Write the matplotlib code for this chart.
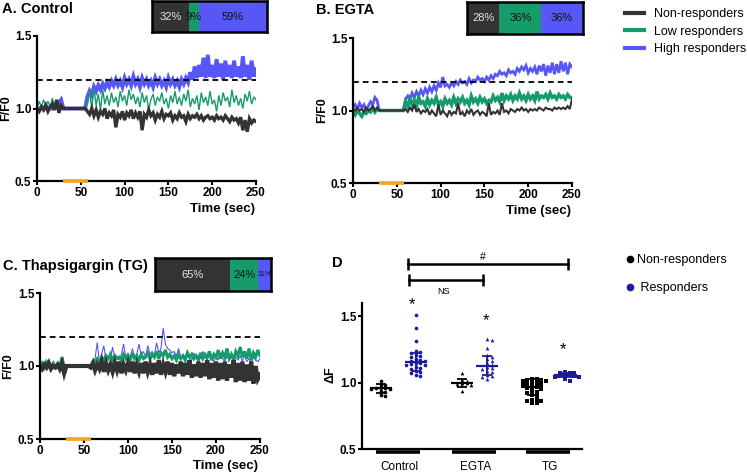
import numpy as np
import matplotlib
matplotlib.use("Agg")
import matplotlib.pyplot as plt
from matplotlib.lines import Line2D

plt.rcParams['font.family'] = ['Liberation Sans', 'DejaVu Sans']

W, H = 747, 474

# ---------------- data ----------------
SAMPLE_STEP = 2.5      # seconds between samples
BASELINE = 1.0         # F/F0 during stimulation window (flat)
N_FLAT = 10            # samples in the flat window between pre and post
STIM_START, STIM_END = 30, 58
THRESHOLD = 1.2

# Panel A (Control)
a_high_pre = [1.00, 0.99, 1.01, 1.00, 1.02, 0.99, 1.01, 1.00, 1.02, 1.01, 1.04, 1.06, 1.00]
a_high_post = [1.08, 1.12, 1.09, 1.15, 1.12, 1.16, 1.13, 1.17, 1.14, 1.18,
               1.15, 1.19, 1.16, 1.20, 1.16, 1.19, 1.15, 1.21, 1.17, 1.20,
               1.16, 1.22, 1.17, 1.20, 1.15, 1.21, 1.17, 1.20, 1.16, 1.19,
               1.15, 1.21, 1.17, 1.20, 1.16, 1.19, 1.15, 1.21, 1.17, 1.20,
               1.16, 1.19, 1.15, 1.20, 1.17, 1.21, 1.18, 1.25, 1.20, 1.29,
               1.21, 1.30, 1.22, 1.35, 1.21, 1.37, 1.22, 1.30, 1.21, 1.34,
               1.22, 1.31, 1.20, 1.33, 1.22, 1.30, 1.21, 1.33, 1.22, 1.29,
               1.21, 1.36, 1.22, 1.30, 1.20, 1.33, 1.22, 1.27]
a_low_pre = [1.00, 1.05, 1.01, 1.06, 1.02, 1.05, 1.01, 1.07, 1.02, 1.04, 1.00, 1.03, 1.00]
a_low_post = [1.03, 1.12, 1.00, 1.14, 1.02, 1.10, 0.99, 1.13, 1.03, 1.09,
              1.02, 1.11, 1.04, 1.08, 1.01, 1.12, 1.05, 1.09, 1.02, 1.13,
              1.06, 1.10, 1.03, 1.08, 1.01, 1.11, 1.04, 1.09, 0.99, 1.06,
              1.10, 1.02, 1.08, 1.05, 1.11, 1.03, 1.07, 1.00, 1.09, 1.04,
              1.12, 1.03, 1.08, 1.02, 1.10, 1.05, 1.13, 1.01, 1.07, 1.03,
              1.09, 0.99, 1.11, 1.04, 1.08, 1.02, 1.12, 1.03, 1.06, 0.98,
              1.09, 1.02, 1.11, 1.05, 1.08, 1.01, 1.13, 1.04, 1.09, 1.02,
              1.07, 1.00, 1.10, 1.05, 1.12, 1.03, 1.08, 1.06]
a_non_pre = [1.00, 0.98, 1.01, 0.99, 1.02, 0.98, 1.01, 1.03, 0.99, 1.06, 0.97, 1.02, 1.00]
a_non_post = [0.98, 0.96, 1.00, 0.95, 0.99, 0.94, 0.98, 0.96, 1.00, 0.93,
              0.97, 0.95, 0.99, 0.87, 0.96, 0.94, 0.98, 0.92, 0.97, 0.95,
              0.99, 0.93, 0.97, 0.94, 0.98, 0.85, 0.96, 0.94, 0.99, 0.95,
              0.97, 0.92, 0.96, 0.94, 0.98, 0.93, 0.96, 0.95, 0.97, 0.92,
              0.95, 0.93, 0.97, 0.94, 0.95, 0.91, 0.96, 0.93, 0.95, 0.94,
              0.96, 0.93, 0.95, 0.92, 0.94, 0.95, 0.93, 0.94, 0.92, 0.95,
              0.93, 0.94, 0.92, 0.95, 0.93, 0.91, 0.94, 0.92, 0.93, 0.90,
              0.94, 0.85, 0.92, 0.84, 0.93, 0.90, 0.92, 0.91]

# Panel B (EGTA)
b_high_pre = [1.02, 1.04, 1.01, 1.05, 1.02, 1.04, 1.00, 1.03, 1.06, 1.04, 1.09, 1.07, 1.00]
b_high_post = [1.00, 1.08, 1.10, 1.07, 1.12, 1.09, 1.13, 1.10, 1.14, 1.11,
               1.15, 1.12, 1.16, 1.13, 1.17, 1.14, 1.19, 1.16, 1.23, 1.17,
               1.18, 1.16, 1.19, 1.17, 1.20, 1.18, 1.21, 1.19, 1.20, 1.18,
               1.22, 1.19, 1.21, 1.20, 1.23, 1.21, 1.22, 1.20, 1.23, 1.21,
               1.24, 1.22, 1.25, 1.24, 1.27, 1.25, 1.26, 1.24, 1.28, 1.26,
               1.27, 1.25, 1.29, 1.27, 1.30, 1.28, 1.31, 1.26, 1.29, 1.27,
               1.30, 1.25, 1.31, 1.27, 1.32, 1.24, 1.31, 1.26, 1.33, 1.25,
               1.32, 1.26, 1.34, 1.27, 1.33, 1.25, 1.32, 1.30]
b_low_pre = [0.99, 0.97, 1.00, 0.98, 0.96, 0.99, 0.98, 1.00, 0.99, 1.02, 0.99, 1.01, 1.00]
b_low_post = [1.00, 1.06, 1.03, 1.08, 1.04, 1.07, 1.03, 1.09, 1.05, 1.06,
              1.03, 1.08, 1.04, 1.07, 1.05, 1.09, 1.04, 1.06, 1.03, 1.08,
              1.05, 1.07, 1.04, 1.09, 1.05, 1.08, 1.06, 1.09, 1.05, 1.07,
              1.04, 1.10, 1.06, 1.08, 1.05, 1.09, 1.06, 1.08, 1.05, 1.07,
              1.06, 1.10, 1.07, 1.09, 1.06, 1.12, 1.07, 1.10, 1.08, 1.11,
              1.07, 1.10, 1.08, 1.12, 1.08, 1.10, 1.07, 1.11, 1.08, 1.10,
              1.07, 1.13, 1.08, 1.10, 1.09, 1.11, 1.08, 1.12, 1.09, 1.10,
              1.08, 1.11, 1.09, 1.10, 1.08, 1.11, 1.09, 1.09]
b_non_pre = [1.01, 1.00, 1.02, 1.00, 1.01, 0.99, 1.02, 1.00, 1.01, 1.03, 1.00, 1.02, 1.00]
b_non_post = [1.00, 1.01, 0.99, 1.02, 1.00, 1.04, 0.99, 1.01, 0.98, 1.00,
              0.99, 1.01, 0.97, 1.00, 0.98, 0.96, 1.04, 0.97, 1.00, 0.98,
              0.96, 1.00, 0.97, 0.99, 0.98, 1.05, 0.97, 0.99, 0.96, 1.00,
              0.98, 1.01, 0.97, 0.99, 1.00, 0.97, 0.99, 0.98, 0.96, 1.05,
              0.97, 0.99, 0.98, 1.00, 0.97, 1.05, 0.99, 1.00, 0.98, 1.01,
              1.00, 0.99, 1.01, 1.00, 1.02, 1.00, 1.01, 0.99, 1.01, 1.00,
              1.01, 1.00, 1.02, 1.01, 1.00, 1.02, 1.01, 1.01, 1.00, 1.02,
              1.01, 1.02, 1.01, 1.02, 1.01, 1.03, 1.01, 1.08]

# Panel C (Thapsigargin)
c_high_pre = [1.00, 0.99, 1.02, 0.98, 1.04, 1.00, 1.02, 0.99, 1.01, 1.00, 1.03, 1.00, 1.00]
c_high_post = [1.00, 1.02, 1.05, 1.16, 1.03, 1.08, 1.14, 1.04, 1.06, 1.05,
               1.13, 1.05, 1.07, 1.04, 1.08, 1.15, 1.06, 1.09, 1.05, 1.12,
               1.06, 1.08, 1.15, 1.07, 1.10, 1.06, 1.14, 1.08, 1.10, 1.07,
               1.16, 1.09, 1.12, 1.26, 1.15, 1.12, 1.11, 1.09, 1.10, 1.07,
               1.12, 1.06, 1.08, 1.05, 1.10, 1.06, 1.04, 1.09, 1.05, 1.07,
               1.05, 1.10, 1.06, 1.04, 1.08, 1.05, 1.03, 1.07, 1.04, 1.09,
               1.05, 1.03, 1.07, 1.04, 1.08, 1.02, 1.06, 1.04, 1.07, 1.03,
               1.08, 1.03, 1.05, 1.02, 1.06, 1.04, 1.03, 1.05]
c_low_pre = [1.00, 1.02, 0.99, 1.03, 1.01, 1.00, 1.02, 0.99, 1.01, 1.00, 1.06, 0.99, 1.00]
c_low_post = [1.00, 1.01, 1.03, 1.05, 1.02, 1.06, 1.04, 1.07, 1.05, 1.08,
              1.04, 1.07, 1.05, 1.06, 1.04, 1.08, 1.05, 1.07, 1.04, 1.09,
              1.05, 1.07, 1.04, 1.08, 1.05, 1.06, 1.09, 1.05, 1.08, 1.06,
              1.10, 1.05, 1.09, 1.07, 1.11, 1.06, 1.08, 1.05, 1.07, 1.04,
              1.08, 1.05, 1.07, 1.04, 1.09, 1.06, 1.08, 1.05, 1.07, 1.04,
              1.09, 1.05, 1.08, 1.06, 1.10, 1.04, 1.08, 1.06, 1.11, 1.05,
              1.09, 1.06, 1.12, 1.05, 1.08, 1.04, 1.10, 1.07, 1.13, 1.06,
              1.10, 1.05, 1.12, 1.04, 1.09, 1.06, 1.11, 1.07]
c_non_pre = [1.00, 0.98, 1.01, 0.99, 1.02, 0.98, 1.00, 0.99, 1.01, 0.98, 1.02, 0.95, 1.00]
c_non_post = [0.99, 1.02, 0.97, 1.01, 0.98, 1.03, 0.96, 1.02, 0.97, 1.01,
              0.96, 1.02, 0.97, 1.03, 0.95, 1.01, 0.97, 1.02, 0.96, 1.03,
              0.95, 1.01, 0.96, 1.02, 0.95, 1.03, 0.96, 1.01, 0.94, 1.02,
              0.95, 1.04, 0.94, 1.01, 0.96, 1.03, 0.94, 1.02, 0.93, 1.01,
              0.95, 1.03, 0.93, 1.02, 0.94, 1.04, 0.92, 1.01, 0.93, 1.03,
              0.92, 1.02, 0.93, 1.04, 0.91, 1.02, 0.92, 1.03, 0.90, 1.02,
              0.91, 1.03, 0.90, 1.01, 0.92, 1.04, 0.89, 1.02, 0.90, 1.03,
              0.89, 1.01, 0.90, 1.03, 0.88, 1.00, 0.91, 0.94]

# Proportions (%) non / low / high
a_pct = [32, 9, 59]
b_pct = [28, 36, 36]
c_pct = [65, 24, 11]

# Panel D: delta F per cell
groups = ["Control", "EGTA", "TG"]
d_non = [
    [1.01, 0.99, 0.98, 0.97, 0.96, 0.96, 0.95, 0.95, 0.94, 0.93, 0.91, 0.90],
    [1.07, 1.02, 1.01, 1.00, 1.00, 0.99, 0.98, 0.94],
    [1.03, 1.03, 1.02, 1.02, 1.01, 1.01, 1.00, 1.00, 0.99, 0.99, 0.98, 0.97, 0.97,
     0.96, 0.95, 0.94, 0.93, 0.92, 0.91, 0.90, 0.87, 0.87, 0.86, 0.86, 0.85, 0.85],
]
d_resp = [
    [1.51, 1.41, 1.31, 1.24, 1.23, 1.22, 1.21, 1.20, 1.19, 1.18, 1.17, 1.16, 1.16,
     1.15, 1.15, 1.14, 1.13, 1.13, 1.12, 1.11, 1.10, 1.09, 1.08, 1.07, 1.06, 1.05],
    [1.33, 1.32, 1.26, 1.21, 1.19, 1.18, 1.16, 1.15, 1.13, 1.12, 1.11, 1.10, 1.09,
     1.08, 1.06, 1.05, 1.04, 1.03],
    [1.08, 1.07, 1.07, 1.07, 1.06, 1.06, 1.06, 1.05, 1.05, 1.05, 1.04, 1.04, 1.03, 1.01],
]
d_non_mean = [0.956, 0.998, 0.968]
d_non_sd = [0.032, 0.030, 0.058]
d_resp_mean = [1.156, 1.129, 1.056]
d_resp_sd = [0.066, 0.070, 0.015]
markers = ['o', '^', 's']

# ---------------- style ----------------
C_NON = '#333333'
C_LOW = '#169b6b'
C_HIGH = '#5757f7'
C_STIM = '#f2a51f'
C_RESP = '#1c1c99'


def frac(x0, y0, x1, y1):
    """pixel box -> figure fraction rect"""
    return [x0 / W, 1 - y1 / H, (x1 - x0) / W, (y1 - y0) / H]


def fpt(x, y):
    return x / W, 1 - y / H


fig = plt.figure(figsize=(W / 100, H / 100), dpi=100)


def trace(pre, post):
    vals = list(pre) + [BASELINE] * N_FLAT + list(post)
    t = np.arange(len(vals)) * SAMPLE_STEP
    return t, np.array(vals)


def style_axes(ax):
    for s in ['top', 'right']:
        ax.spines[s].set_visible(False)
    for s in ['left', 'bottom']:
        ax.spines[s].set_linewidth(1.6)
    ax.tick_params(direction='out', length=3, width=1.5, labelsize=8.5, pad=1)
    for lbl in ax.get_xticklabels() + ax.get_yticklabels():
        lbl.set_fontweight('bold')


def trace_panel(rect, series):
    ax = fig.add_axes(rect)
    for pre, post, color, lw in series:
        t, v = trace(pre, post)
        ax.plot(t, v, color=color, lw=lw, solid_joinstyle='miter')
    ax.hlines(THRESHOLD, 0, 250, colors='black', linestyles=(0, (3.2, 2.2)), lw=1.3, zorder=4)
    ax.plot([STIM_START, STIM_END], [0.5, 0.5], color=C_STIM, lw=2.6, clip_on=False,
            zorder=6, solid_capstyle='butt')
    ax.set_xlim(0, 250)
    ax.set_ylim(0.5, 1.5)
    ax.set_xticks([0, 50, 100, 150, 200, 250])
    ax.set_yticks([0.5, 1.0, 1.5])
    style_axes(ax)
    return ax


def pct_bar(rect, pcts, textcolors, sizes):
    ax = fig.add_axes(rect)
    left = 0
    for p, c, tc, fs in zip(pcts, [C_NON, C_LOW, C_HIGH], textcolors, sizes):
        ax.barh(0, p, left=left, height=1, color=c, edgecolor='none')
        ax.text(left + p / 2, 0, f'{p}%', ha='center', va='center', color=tc, fontsize=fs)
        left += p
    ax.set_xlim(0, 100)
    ax.set_ylim(-0.5, 0.5)
    ax.set_xticks([])
    ax.set_yticks([])
    for s in ax.spines.values():
        s.set_linewidth(1.8)
        s.set_color('black')


# Panel A
axA = trace_panel(frac(37, 36, 256, 181), [
    (a_high_pre, a_high_post, C_HIGH, 2.8),
    (a_low_pre, a_low_post, C_LOW, 1.0),
    (a_non_pre, a_non_post, C_NON, 2.4),
])
# Panel B
axB = trace_panel(frac(353, 38, 572, 183), [
    (b_high_pre, b_high_post, C_HIGH, 2.0),
    (b_low_pre, b_low_post, C_LOW, 2.5),
    (b_non_pre, b_non_post, C_NON, 1.5),
])
# Panel C
axC = trace_panel(frac(40, 293, 260, 439), [
    (c_high_pre, c_high_post, C_HIGH, 0.8),
    (c_low_pre, c_low_post, C_LOW, 2.2),
    (c_non_pre, c_non_post, C_NON, 3.0),
])

pct_bar(frac(152, 1, 267, 32), a_pct, ['#e6e6e6', '#111111', '#111111'], [8, 8, 8])
pct_bar(frac(467, 2, 583, 34), b_pct, ['#e6e6e6', '#111111', '#111111'], [8, 8, 8])
pct_bar(frac(155, 258, 271, 291), c_pct, ['#e6e6e6', '#111111', '#111111'], [8, 8, 5.5])

# Panel titles and axis labels
for txt, x, y in [("A. Control", 2, 9), ("B. EGTA", 316, 10),
                  ("C. Thapsigargin (TG)", 3, 266), ("D", 332, 263)]:
    fig.text(*fpt(x, y), txt, fontsize=10.5, fontweight='bold', ha='left', va='center')
for x, y in [(6, 108), (322, 110), (8, 366)]:
    fig.text(*fpt(x, y), "F/F0", fontsize=9, fontweight='bold', rotation=90,
             ha='center', va='center')
for x, y in [(255, 209), (571, 211), (258, 466)]:
    fig.text(*fpt(x, y), "Time (sec)", fontsize=9.5, fontweight='bold', ha='right', va='center')

# Trace legend
fig.legend(handles=[Line2D([], [], color=C_NON, lw=3),
                    Line2D([], [], color=C_LOW, lw=3),
                    Line2D([], [], color=C_HIGH, lw=3)],
           labels=["Non-responders", "Low responders", "High responders"],
           loc='upper left', bbox_to_anchor=fpt(625, 8), frameon=False,
           fontsize=9, handlelength=1.5, handletextpad=0.8, labelspacing=0.45,
           borderpad=0, borderaxespad=0)

# Panel D
axD = fig.add_axes(frac(362, 303, 582, 449))
centers = [36, 112.5, 186.5]
half_gap = [17.5, 12.5, 16.5]


def swarm_offsets(vals, step=4.6, binw=0.03, max_half=12):
    vals = np.asarray(vals)
    offs = np.zeros(len(vals))
    bins = np.round(vals / binw)
    for b in np.unique(bins):
        idx = np.where(bins == b)[0]
        n = len(idx)
        st = min(step, 2 * max_half / max(n - 1, 1))
        for k, i in enumerate(idx):
            m = (k + 1) // 2
            offs[i] = m * st * (1 if k % 2 else -1)
    return offs


for g in range(3):
    for vals, mean, sd, color, sign in [(d_non[g], d_non_mean[g], d_non_sd[g], 'black', -1),
                                        (d_resp[g], d_resp_mean[g], d_resp_sd[g], C_RESP, 1)]:
        x = centers[g] + sign * half_gap[g]
        xs = x + swarm_offsets(vals)
        axD.scatter(xs, vals, s=7 if markers[g] != 's' else 8, marker=markers[g],
                    color=color, linewidths=0, zorder=3)
        axD.errorbar([x], [mean], yerr=[sd], fmt='none', ecolor=color, elinewidth=1.3,
                     capsize=3.5, capthick=1.3, zorder=4)
        axD.hlines(mean, x - 11, x + 11, colors=color, lw=1.6, zorder=4)
    # category bar under axis and label
    axD.plot([centers[g] - 22, centers[g] + 22], [0.477, 0.477], color='black', lw=2.6,
             clip_on=False, solid_capstyle='butt')
    axD.text(centers[g] + 1.5, 0.365, groups[g], ha='center', va='center', fontsize=8.5)

# significance marks
axD.text(50, 1.59, '*', ha='center', va='center', fontsize=12)
axD.text(124, 1.47, '*', ha='center', va='center', fontsize=12)
axD.text(201, 1.25, '*', ha='center', va='center', fontsize=12)
axD.plot([46, 206], [1.896, 1.896], color='black', lw=1.8, clip_on=False)
axD.vlines([46, 206], 1.85, 1.94, colors='black', lw=1.8, clip_on=False)
axD.text(121, 1.95, '#', ha='center', va='center', fontsize=7.5)
axD.plot([47, 121], [1.776, 1.776], color='black', lw=1.8, clip_on=False)
axD.vlines([47, 121], 1.73, 1.82, colors='black', lw=1.8, clip_on=False)
axD.text(82, 1.69, 'NS', ha='center', va='center', fontsize=6.5)

axD.set_xlim(0, 220)
axD.set_ylim(0.5, 1.6)
axD.set_yticks([0.5, 1.0, 1.5])
axD.set_xticks([])
style_axes(axD)
fig.text(*fpt(331, 375), "ΔF", fontsize=9, fontweight='bold', rotation=90,
         ha='center', va='center')

fig.legend(handles=[Line2D([], [], marker='o', ls='none', color='black', ms=4.5),
                    Line2D([], [], marker='o', ls='none', color=C_RESP, ms=4.5)],
           labels=["Non-responders", " Responders"],
           loc='upper left', bbox_to_anchor=fpt(627, 254), frameon=False,
           fontsize=9, handlelength=0.5, handletextpad=0.3, labelspacing=1.3,
           borderpad=0, borderaxespad=0)

fig.savefig("out.png", dpi=100)
